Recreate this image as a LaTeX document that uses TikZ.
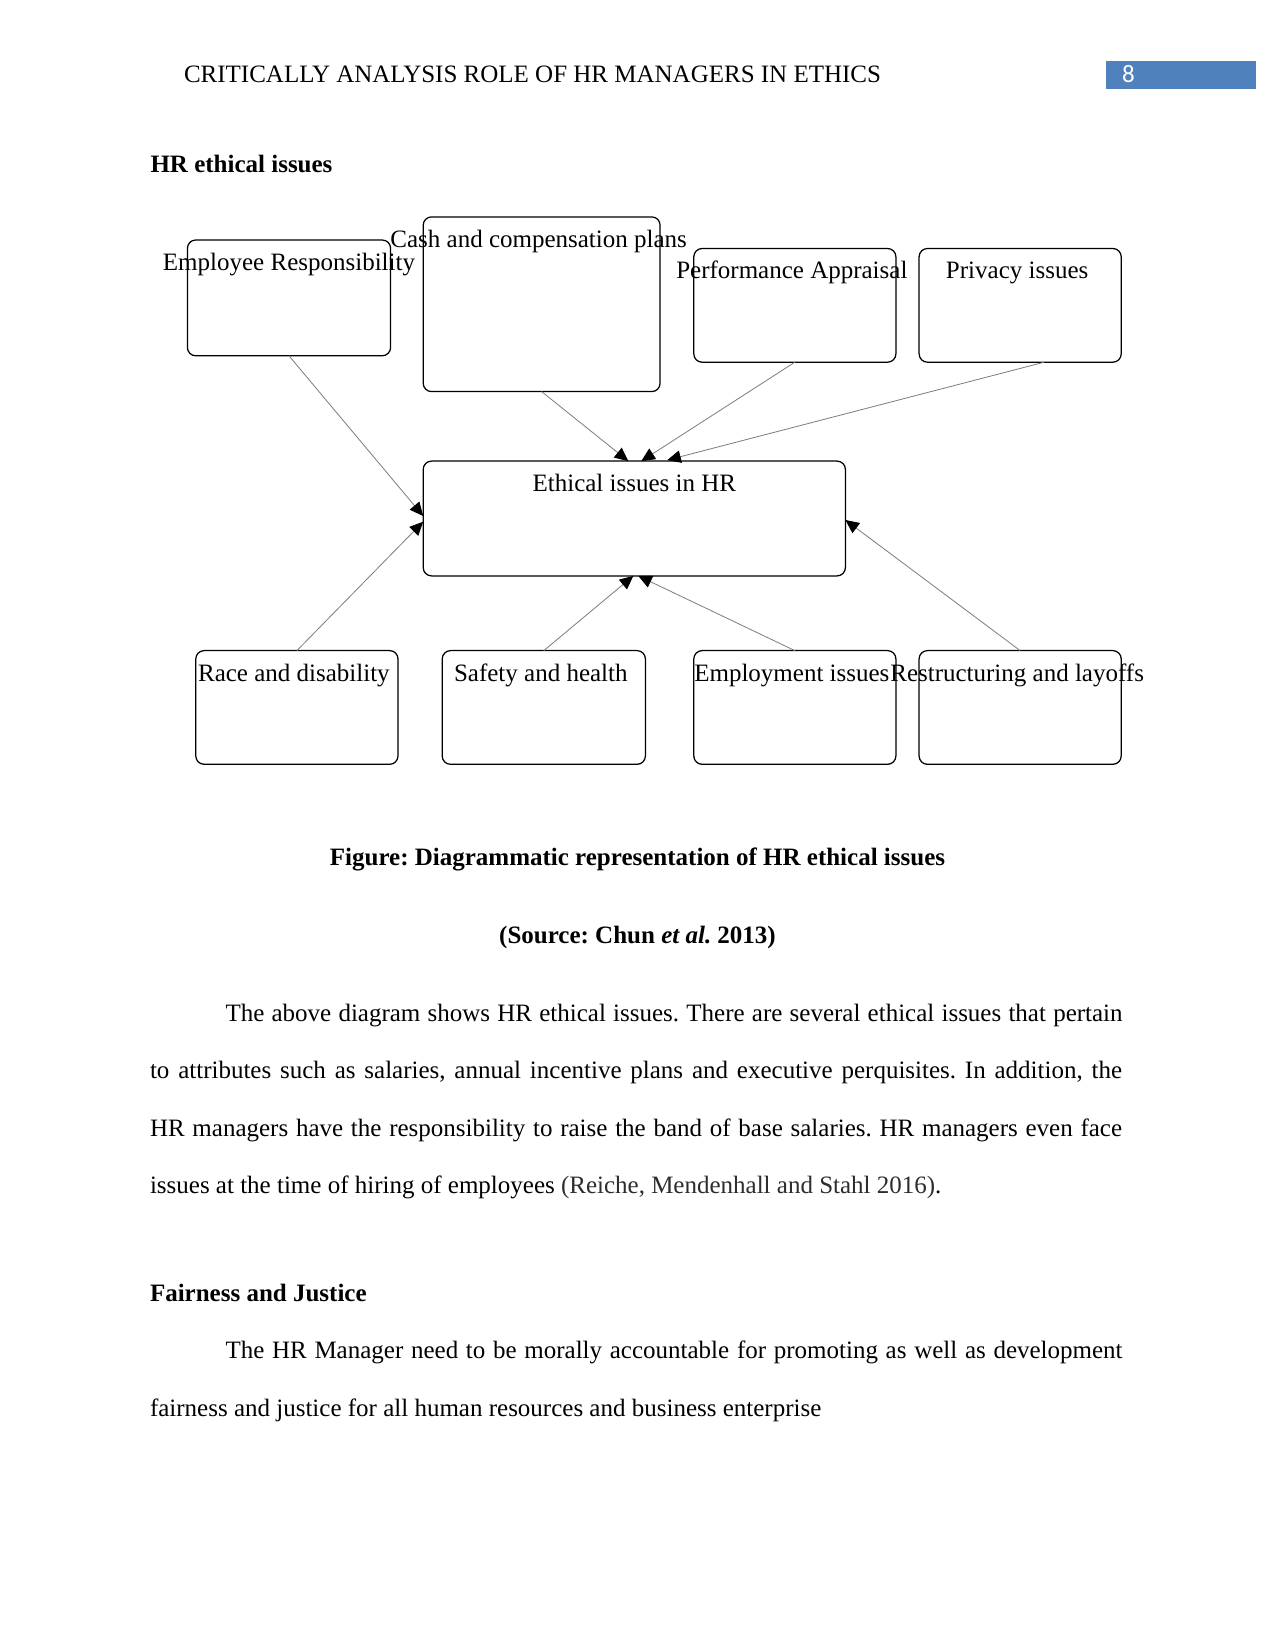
\documentclass[tikz,border=0pt]{standalone}
\usepackage{fontspec}
\setmainfont{Liberation Serif}
\newfontfamily\pnumfont{Carlito}
\usetikzlibrary{arrows.meta,calc}
\definecolor{hdrblue}{RGB}{79,129,189}
\definecolor{citegray}{RGB}{45,45,45}
\frenchspacing
\begin{document}
\begin{tikzpicture}[x=0.48pt,y=-0.48pt,
  every node/.style={inner sep=0pt, outer sep=0pt, font=\fontsize{12pt}{14pt}\selectfont},
  box/.style={draw=black, line width=0.6pt, rounded corners=4pt},
  sz/.style 2 args={minimum width=#1*0.48pt, minimum height=#2*0.48pt},
  lbl/.style={anchor=base},
  conn/.style={draw=gray, line width=0.4pt, -{Triangle[length=6.5pt,width=6pt,black]}},
  txt/.style={anchor=base west},
  bodyline/.style={anchor=base west}
]
\useasboundingbox[fill=white] (0,0) rectangle (1275,1651);

% header
\node[txt] (hdr) at (184,83) {CRITICALLY ANALYSIS ROLE OF HR MANAGERS IN ETHICS};
\node[fill=hdrblue, sz={150}{28}, anchor=north west] (pbox) at (1106,61) {};
\node[txt, text=white, font=\pnumfont\fontsize{12pt}{14pt}\selectfont] (pnum) at (1122,83) {8};

% section title
\node[txt, font=\bfseries\fontsize{12pt}{14pt}\selectfont] (sec1) at (150.5,173) {HR ethical issues};

% boxes
\node[box, sz={203.2}{115.8}] (emp)  at (289,297.9) {};
\node[box, sz={236.9}{174.7}] (cash) at (541.65,304.25) {};
\node[box, sz={202.1}{113.7}] (perf) at (794.85,305.35) {};
\node[box, sz={202.1}{113.7}] (priv) at (1020.15,305.35) {};
\node[box, sz={422.2}{114.8}] (eth)  at (634.3,518.5) {};
\node[box, sz={202.2}{113.7}] (race) at (296.9,707.45) {};
\node[box, sz={203.2}{113.7}] (safe) at (543.8,707.45) {};
\node[box, sz={202.1}{113.7}] (empl) at (794.85,707.45) {};
\node[box, sz={202.1}{113.7}] (rest) at (1020.15,707.45) {};

% labels
\node[lbl] (empT)  at ($(emp.north)+(0,30.5)$)  {Employee Responsibility};
\node[lbl] (cashT) at ($(cash.north)+(-3,30.5)$) {Cash and compensation plans};
\node[lbl] (perfT) at ($(perf.north)+(-3,30.5)$) {Performance Appraisal};
\node[lbl] (privT) at ($(priv.north)+(-3,30.5)$) {Privacy issues};
\node[lbl] (ethT)  at ($(eth.north)+(0,30.5)$)  {Ethical issues in HR};
\node[lbl] (raceT) at ($(race.north)+(-3,30.5)$) {Race and disability};
\node[lbl] (safeT) at ($(safe.north)+(-3,30.5)$) {Safety and health};
\node[lbl] (emplT) at ($(empl.north)+(-3,30.5)$) {Employment issues};
\node[lbl] (restT) at ($(rest.north)+(-3,30.5)$) {Restructuring and layoffs};

% connectors
\draw[conn] (emp.south)  -- ($(eth.west)+(0,-2.5)$);
\draw[conn] (cash.south) -- ($(eth.north)+(-6,0)$);
\draw[conn] (perf.south) -- ($(eth.north)+(7,0)$);
\draw[conn] ($(priv.south)+(24,0)$) -- ($(eth.north)+(33,-1)$);
\draw[conn] (race.north) -- ($(eth.west)+(0,3.2)$);
\draw[conn] (safe.north) -- ($(eth.south)+(-1,0)$);
\draw[conn] (empl.north) -- ($(eth.south)+(4,0)$);
\draw[conn] (rest.north) -- ($(eth.east)+(0,1.5)$);

% caption
\node[lbl, font=\bfseries\fontsize{12pt}{14pt}\selectfont] (cap) at (637.5,865) {Figure: Diagrammatic representation of HR ethical issues};
\node[lbl, font=\bfseries\fontsize{12pt}{14pt}\selectfont] (src) at (637.5,943) {(Source: Chun \textit{et al.} 2013)};

% paragraph 1
\node[bodyline] (p1) at (225.5,1021.7) {\makebox[430.6pt][s]{The above diagram shows HR ethical issues. There are several ethical issues that pertain}};
\node[bodyline] (p2) at (150,1078.5) {\makebox[466.6pt][s]{to attributes such as salaries, annual incentive plans and executive perquisites. In addition, the}};
\node[bodyline] (p3) at (150,1136.5) {\makebox[466.6pt][s]{HR managers have the responsibility to raise the band of base salaries. HR managers even face}};
\node[bodyline] (p4) at (150,1193.3) {issues at the time of hiring of employees \textcolor{citegray}{(Reiche, Mendenhall and Stahl 2016)}.};

% section 2
\node[txt, font=\bfseries\fontsize{12pt}{14pt}\selectfont] (sec2) at (150,1301.7) {Fairness and Justice};
\node[bodyline] (q1) at (225.5,1358.3) {\makebox[430.6pt][s]{The HR Manager need to be morally accountable for promoting as well as development}};
\node[bodyline] (q2) at (150,1416.7) {fairness and justice for all human resources and business enterprise};
\end{tikzpicture}
\end{document}
